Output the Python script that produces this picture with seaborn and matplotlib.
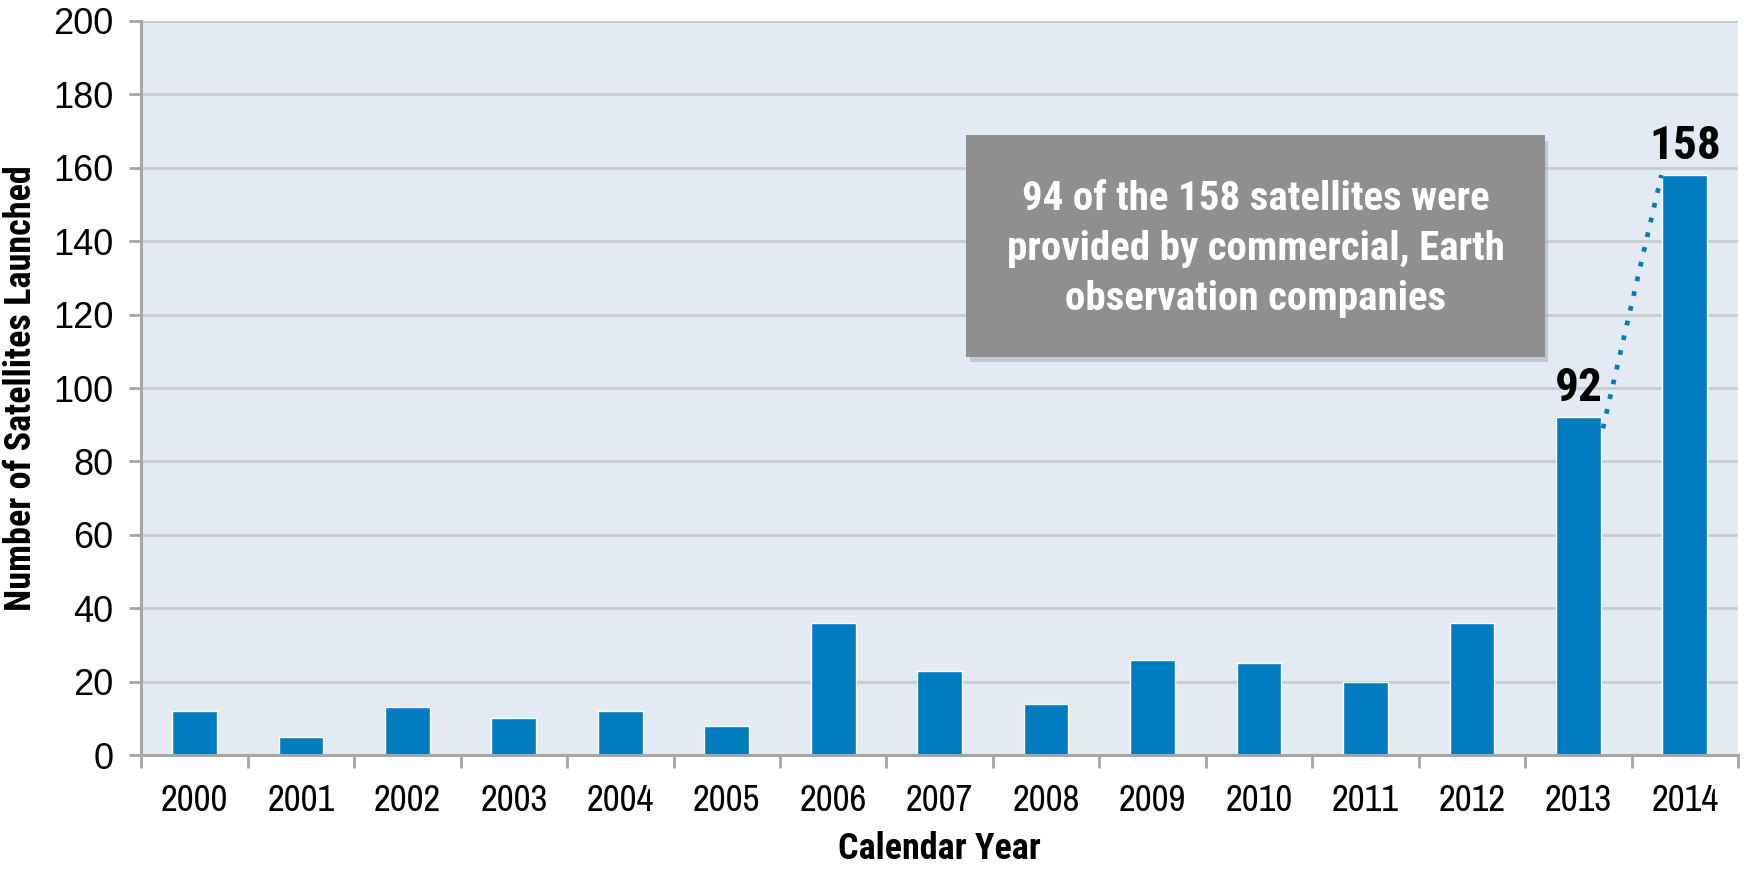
import matplotlib
matplotlib.use("Agg")
import matplotlib.pyplot as plt
import seaborn as sns
import pandas as pd
import numpy as np
from matplotlib.patches import FancyBboxPatch
from matplotlib import font_manager as fm

years = ["2000", "2001", "2002", "2003", "2004", "2005", "2006", "2007",
         "2008", "2009", "2010", "2011", "2012", "2013", "2014"]
satellites = [12, 5, 13, 10, 12, 8, 36, 23, 14, 26, 25, 20, 36, 92, 158]
yticks = [0, 20, 40, 60, 80, 100, 120, 140, 160, 180, 200]
note = "94 of the 158 satellites were\nprovided by commercial, Earth\nobservation companies"

BAR = "#027CC1"
BG = "#E3EAF4"
GRID = "#C9CBCE"
SPINE = "#A6A6A6"
REG = ["Liberation Sans", "DejaVu Sans"]

CANDIDATES = ["Liberation Sans Narrow", "Arial Narrow", "Archivo Narrow",
              "Roboto Condensed", "PT Sans Narrow", "Pragati Narrow",
              "Open Sans Condensed", "IBM Plex Sans Condensed"]


def pick(min_w, max_w):
    avail = {}
    for f in fm.fontManager.ttflist:
        w = f.weight if isinstance(f.weight, int) else 400
        avail.setdefault(f.name, []).append(w)
    for c in CANDIDATES:
        if c in avail and any(min_w <= w <= max_w for w in avail[c]):
            return [c, "Liberation Sans", "DejaVu Sans"]
    return REG


NARROW = pick(350, 450)
NARROW_B = pick(650, 750)

sns.set_theme(style="white")
plt.rcParams["font.family"] = REG
plt.rcParams["text.color"] = "black"
plt.rcParams["axes.labelcolor"] = "black"
plt.rcParams["xtick.color"] = "black"
plt.rcParams["ytick.color"] = "black"

df = pd.DataFrame({"year": years, "count": satellites})

fig = plt.figure(figsize=(17.44, 8.69), dpi=100)
ax = fig.add_axes([0.081, 0.131, 0.9156, 0.845])
ax.set_facecolor(BG)

sns.barplot(data=df, x="year", y="count", color=BAR, width=0.42,
            saturation=1, ax=ax, zorder=3)

ax.set_xlim(-0.5, len(years) - 0.5)
ax.set_ylim(0, 200)
ax.set_yticks(yticks)
ax.yaxis.grid(True, color=GRID, linewidth=2, zorder=0)
ax.set_axisbelow(True)

for s in ["top", "right"]:
    ax.spines[s].set_visible(False)
for s in ["left", "bottom"]:
    ax.spines[s].set_color(SPINE)
    ax.spines[s].set_linewidth(2.2)
    ax.spines[s].set_zorder(4)

# y ticks
ax.tick_params(axis="y", which="major", direction="out", length=9, width=2,
               color=SPINE, labelcolor="black", pad=11, labelsize=26, left=True)
for lab in ax.get_yticklabels():
    lab.set_fontfamily(REG)

# x ticks: labels centered, tick marks on category boundaries
ax.set_xticks(np.arange(len(years)))
ax.set_xticklabels(years)
ax.tick_params(axis="x", which="major", length=0, pad=21, labelsize=26.5,
               labelcolor="black")
for lab in ax.get_xticklabels():
    lab.set_fontfamily(NARROW)
ax.set_xticks(np.arange(-0.5, len(years)), minor=True)
ax.tick_params(axis="x", which="minor", direction="out", length=9, width=2,
               color=SPINE, bottom=True)

ax.set_xlabel("Calendar Year", fontsize=26, fontweight="bold",
              family=NARROW_B, labelpad=10, color="black")
ax.set_ylabel("Number of Satellites Launched", fontsize=26, fontweight="bold",
              family=NARROW_B, labelpad=10, color="black")

# value labels for the last two bars
for i in (13, 14):
    ax.text(i, satellites[i] + 2, str(satellites[i]), ha="center", va="bottom",
            fontsize=34, fontweight="bold", family=NARROW_B, color="black",
            zorder=6)

# dotted connector
ax.plot([13.23, 13.78], [89, 158], linestyle=(0, (1, 2.2)), color=BAR,
        linewidth=3.4, zorder=5)

# annotation box with shadow (axes-fraction coords)
bx0, by0, bw, bh = 0.5167, 0.542, 0.3625, 0.302
shadow = FancyBboxPatch((bx0 + 0.002, by0 - 0.007), bw, bh,
                        boxstyle="square,pad=0", transform=ax.transAxes,
                        facecolor="#9aa0a8", edgecolor="none", alpha=0.45, zorder=6)
box = FancyBboxPatch((bx0, by0), bw, bh, boxstyle="square,pad=0",
                     transform=ax.transAxes, facecolor="#8F8F8F",
                     edgecolor="none", zorder=7)
ax.add_patch(shadow)
ax.add_patch(box)
ax.text(bx0 + bw / 2, by0 + bh * 0.49, note, transform=ax.transAxes,
        ha="center", va="center", fontsize=29.5, fontweight="bold",
        family=NARROW_B, color="white", linespacing=1.4, zorder=8)

fig.savefig("out.png", dpi=100, facecolor="white")
